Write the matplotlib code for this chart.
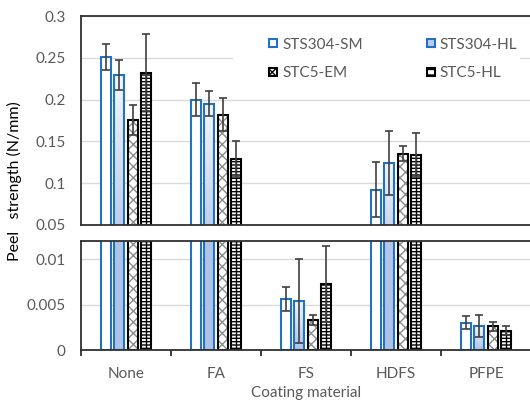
import matplotlib.pyplot as plt
import numpy as np
from matplotlib.colors import LinearSegmentedColormap
from matplotlib.patches import Rectangle, Patch
from matplotlib.ticker import FixedLocator, FormatStrFormatter, NullFormatter

plt.rcParams['font.family'] = ['Lato', 'DejaVu Sans']
plt.rcParams['hatch.linewidth'] = 1.0

materials = ['None', 'FA', 'FS', 'HDFS', 'PFPE']
series = ['STS304-SM', 'STS304-HL', 'STC5-EM', 'STC5-HL']

# peel strength (N/mm) and error bars, one list per sample
sm = [0.251, 0.200, 0.0056, 0.092, 0.0030]
sm_err = [0.016, 0.020, 0.0013, 0.033, 0.0007]
hl = [0.229, 0.195, 0.0054, 0.124, 0.0026]
hl_err = [0.018, 0.015, 0.0046, 0.038, 0.0012]
em = [0.176, 0.182, 0.0033, 0.135, 0.0026]
em_err = [0.018, 0.020, 0.0006, 0.009, 0.0005]
c5hl = [0.232, 0.129, 0.0073, 0.134, 0.0021]
c5hl_err = [0.046, 0.021, 0.0042, 0.026, 0.0005]

blue = '#2272C3'
dark = '#303030'
txt = '#595959'
grad_cmap = LinearSegmentedColormap.from_list('hl', ['#AEC2E8', '#F4F6FC'])
grad = np.linspace(0, 1, 100).reshape(-1, 1)

fig = plt.figure(figsize=(5.3, 4.01), dpi=100)
W, H = 530, 401
ax_top = fig.add_axes([81 / W, 1 - 225 / H, 450 / W, 209 / H])
ax_bot = fig.add_axes([81 / W, 1 - 350 / H, 450 / W, 109 / H])

x = np.arange(len(materials))
step = 0.15
bw = 0.115
err_kw = dict(ecolor='#404040', elinewidth=1.2, capsize=3, capthick=1.2)

for ax in (ax_top, ax_bot):
    ax.set_axisbelow(True)
    ax.grid(axis='y', color='#D9D9D9', linewidth=1)

    ax.bar(x - 1.5 * step, sm, bw, color='white', edgecolor=blue,
           linewidth=1.5, zorder=2)
    ax.errorbar(x - 1.5 * step, sm, yerr=sm_err, fmt='none', zorder=3, **err_kw)

    b2 = ax.bar(x - 0.5 * step, hl, bw, color='none', edgecolor=blue,
                linewidth=1.5, zorder=2)
    for p in b2:
        x0, w, h = p.get_x(), p.get_width(), p.get_height()
        ax.imshow(grad, cmap=grad_cmap, extent=(x0, x0 + w, 0, h),
                  aspect='auto', origin='lower', zorder=1.8)
    ax.errorbar(x - 0.5 * step, hl, yerr=hl_err, fmt='none', zorder=3, **err_kw)

    ax.bar(x + 0.5 * step, em, bw, color='white', edgecolor='#8C8C8C',
           linewidth=0, hatch='xxx', zorder=1.9)
    ax.bar(x + 0.5 * step, em, bw, color='none', edgecolor='black',
           linewidth=1.5, zorder=2)
    ax.errorbar(x + 0.5 * step, em, yerr=em_err, fmt='none', zorder=3, **err_kw)

    b4 = ax.bar(x + 1.5 * step, c5hl, bw, color='white', edgecolor='black',
                linewidth=1.5, hatch='-----', zorder=2)
    ax.vlines([p.get_x() + p.get_width() / 2 for p in b4], 0,
              [p.get_height() for p in b4], color='black', linewidth=1, zorder=2.1)
    ax.errorbar(x + 1.5 * step, c5hl, yerr=c5hl_err, fmt='none', zorder=3, **err_kw)

    ax.set_xlim(-0.5, 4.5)
    ax.spines['right'].set_visible(False)
    for s in ('top', 'left', 'bottom'):
        ax.spines[s].set_color(dark)
        ax.spines[s].set_linewidth(1.3)
    ax.tick_params(axis='y', length=0, labelsize=11, labelcolor=txt, pad=11)
    ax.yaxis.set_major_formatter(FormatStrFormatter('%g'))

ax_top.set_ylim(0.05, 0.3)
ax_top.set_yticks([0.05, 0.1, 0.15, 0.2, 0.25, 0.3])
ax_top.set_xticks([])

ax_bot.set_ylim(0, 0.012)
ax_bot.set_yticks([0, 0.005, 0.01])
ax_bot.xaxis.set_major_locator(FixedLocator(np.arange(-0.5, 5, 1)))
ax_bot.xaxis.set_major_formatter(NullFormatter())
ax_bot.xaxis.set_minor_locator(FixedLocator(x))
ax_bot.set_xticklabels(materials, minor=True)
ax_bot.tick_params(axis='x', which='major', direction='out', length=4,
                   color=dark, width=1.3)
ax_bot.tick_params(axis='x', which='minor', length=0, pad=12,
                   labelsize=11, labelcolor=txt)
ax_bot.set_xlabel('Coating material', fontsize=11, color=txt, labelpad=3.5)

# white box behind legend
ax_top.add_patch(Rectangle((0.338, 0.656), 0.638, 0.315, transform=ax_top.transAxes,
                           facecolor='white', edgecolor='none', zorder=4))
handles = [
    Patch(facecolor='white', edgecolor=blue, linewidth=1.5),
    Patch(facecolor='white', edgecolor='black', linewidth=1.5, hatch='xxx'),
    Patch(facecolor='#BCCCEB', edgecolor=blue, linewidth=1.5),
    Patch(facecolor='white', edgecolor='black', linewidth=1.5, hatch='---'),
]
labels = [series[0], series[2], series[1], series[3]]
leg = ax_top.legend(handles, labels, ncol=2,
                    loc='upper left', bbox_to_anchor=(0.418, 0.897), frameon=False,
                    fontsize=11, labelcolor=txt, handlelength=0.5, handleheight=0.5,
                    handletextpad=0.35, columnspacing=4.2, labelspacing=0.98,
                    borderpad=0, borderaxespad=0)
leg.set_zorder(5)

fig.text(14 / W, 1 - 181 / H, 'Peel   strength (N/mm)', rotation=90,
         ha='center', va='center', fontsize=11.5, color='black')

fig.savefig('out.png', dpi=100)
